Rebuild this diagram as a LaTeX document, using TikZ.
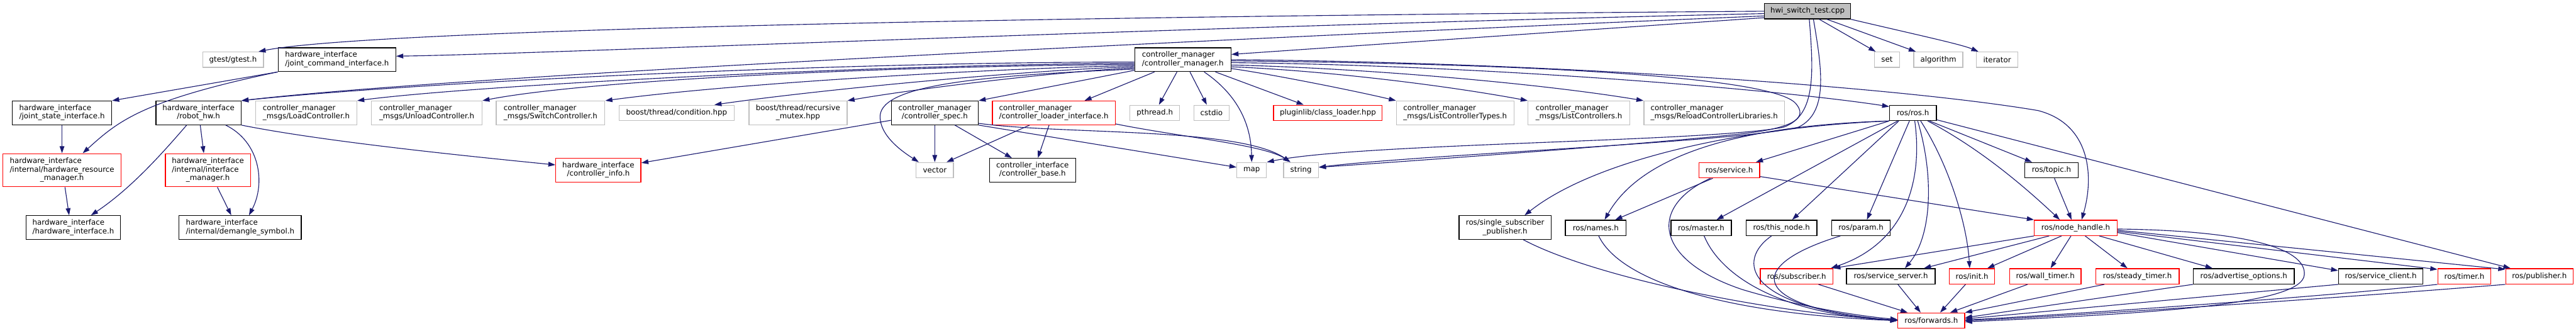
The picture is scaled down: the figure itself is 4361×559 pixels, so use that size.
\documentclass[tikz,border=0pt]{standalone}
\usepackage{fontspec}
\setmainfont{DejaVu Sans}
\usetikzlibrary{arrows.meta}
\definecolor{midnight}{HTML}{191970}
\definecolor{grey75}{HTML}{BFBFBF}
\newcommand\twoline[2]{\begin{tabular}{@{}l@{}}#1\\\multicolumn{1}{@{}c@{}}{#2}\end{tabular}}
\newcommand\threeline[3]{\begin{tabular}{@{}l@{}}#1\\#2\\\multicolumn{1}{@{}c@{}}{#3}\end{tabular}}
\tikzset{
  bx/.style={draw=black, line width=1.4pt, fill=white, inner sep=0pt, text=black, font=\fontsize{12.6}{14.3}\selectfont},
  gbx/.style={bx, draw=grey75},
  rbx/.style={bx, draw=red},
  hA/.style={minimum height=26pt},
  hB/.style={minimum height=40pt},
  hC/.style={minimum height=56pt},
  bw/.style={minimum width=#1},
  edg/.style={draw=midnight, line width=1.2pt, -{Triangle[length=12pt,width=8pt]}},
}
\begin{document}
\begin{tikzpicture}[x=1pt,y=-1pt]
\fill[white] (0,0) rectangle (4361,559);
\useasboundingbox (0,0) rectangle (4361,559);
% row 0
\node[bx, fill=grey75, hA, bw=146pt] (hwi) at (3060,19) {hwi\_switch\_test.cpp};
% row 1
\node[gbx, hA, bw=103pt] (gtest) at (394.5,101) {gtest/gtest.h};
\node[bx, hB, bw=199pt] (jci) at (570.5,101) {\twoline{hardware\_interface}{/joint\_command\_interface.h}};
\node[bx, hB, bw=163pt] (cm) at (2002.5,101) {\twoline{controller\_manager}{/controller\_manager.h}};
\node[gbx, hA, bw=43pt] (set) at (3194.5,101) {set};
\node[gbx, hA, bw=83pt] (algorithm) at (3281.5,101) {algorithm};
\node[gbx, hA, bw=70pt] (iterator) at (3381,101) {iterator};
% row 2
\node[bx, hB, bw=168pt] (jsi) at (105,191) {\twoline{hardware\_interface}{/joint\_state\_interface.h}};
\node[bx, hB, bw=144pt] (robothw) at (336,191) {\twoline{hardware\_interface}{/robot\_hw.h}};
\node[gbx, hB, bw=171pt] (load) at (518.5,191) {\twoline{controller\_manager}{\_msgs/LoadController.h}};
\node[gbx, hB, bw=187pt] (unload) at (722.5,191) {\twoline{controller\_manager}{\_msgs/UnloadController.h}};
\node[gbx, hB, bw=184pt] (switch) at (932,191) {\twoline{controller\_manager}{\_msgs/SwitchController.h}};
\node[gbx, hA, bw=195pt] (cond) at (1145.5,191) {boost/thread/condition.hpp};
\node[gbx, hB, bw=166pt] (rmutex) at (1351,191) {\twoline{boost/thread/recursive}{\_mutex.hpp}};
\node[bx, hB, bw=147pt] (spec) at (1582.5,191) {\twoline{controller\_manager}{/controller\_spec.h}};
\node[rbx, hB, bw=208pt] (cli) at (1784,191) {\twoline{controller\_manager}{/controller\_loader\_interface.h}};
\node[gbx, hA, bw=84pt] (pthread) at (1955,191) {pthread.h};
\node[gbx, hA, bw=60pt] (cstdio) at (2051,191) {cstdio};
\node[rbx, hA, bw=184pt] (classloader) at (2248,191) {pluginlib/class\_loader.hpp};
\node[gbx, hB, bw=199pt] (listtypes) at (2463.5,191) {\twoline{controller\_manager}{\_msgs/ListControllerTypes.h}};
\node[gbx, hB, bw=172pt] (listctrl) at (2673,191) {\twoline{controller\_manager}{\_msgs/ListControllers.h}};
\node[gbx, hB, bw=238pt] (reload) at (2902,191) {\twoline{controller\_manager}{\_msgs/ReloadControllerLibraries.h}};
\node[bx, hA, bw=79pt] (ros) at (3238.5,191) {ros/ros.h};
% row 3
\node[rbx, hC, bw=200pt] (hrm) at (105,288) {\threeline{hardware\_interface}{/internal/hardware\_resource}{\_manager.h}};
\node[rbx, hC, bw=144pt] (im) at (352,288) {\threeline{hardware\_interface}{/internal/interface}{\_manager.h}};
\node[rbx, hB, bw=144pt] (cinfo) at (1013,288) {\twoline{hardware\_interface}{/controller\_info.h}};
\node[gbx, hA, bw=63pt] (vector) at (1582.5,288) {vector};
\node[bx, hB, bw=146pt] (cbase) at (1748,288) {\twoline{controller\_interface}{/controller\_base.h}};
\node[gbx, hA, bw=50pt] (map) at (2119,288) {map};
\node[gbx, hA, bw=59pt] (string) at (2202.5,288) {string};
\node[rbx, hA, bw=103pt] (service) at (2927.5,288) {ros/service.h};
\node[bx, hA, bw=90pt] (topic) at (3473,288) {ros/topic.h};
% row 4
\node[bx, hB, bw=160pt] (hwif) at (124,385) {\twoline{hardware\_interface}{/hardware\_interface.h}};
\node[bx, hB, bw=207pt] (demangle) at (406.5,385) {\twoline{hardware\_interface}{/internal/demangle\_symbol.h}};
\node[bx, hB, bw=156pt] (ssp) at (2548,385) {\twoline{ros/single\_subscriber}{\_publisher.h}};
\node[bx, hA, bw=103pt] (names) at (2701.5,385.5) {ros/names.h};
\node[bx, hA, bw=102pt] (master) at (2880,385.5) {ros/master.h};
\node[bx, hA, bw=120pt] (thisnode) at (3016,385.5) {ros/this\_node.h};
\node[bx, hA, bw=99pt] (param) at (3150.5,385.5) {ros/param.h};
\node[rbx, hA, bw=140pt] (nh) at (3514,385.5) {ros/node\_handle.h};
% row 5
\node[rbx, hA, bw=123pt] (subscriber) at (3041.5,467.5) {ros/subscriber.h};
\node[bx, hA, bw=150pt] (sserver) at (3201,467.5) {ros/service\_server.h};
\node[rbx, hA, bw=77pt] (init) at (3338.5,467.5) {ros/init.h};
\node[rbx, hA, bw=121pt] (walltimer) at (3462.5,467.5) {ros/wall\_timer.h};
\node[rbx, hA, bw=141pt] (steady) at (3618.5,467.5) {ros/steady\_timer.h};
\node[bx, hA, bw=171pt] (advopt) at (3798.5,467.5) {ros/advertise\_options.h};
\node[bx, hA, bw=143pt] (sclient) at (4030.5,467.5) {ros/service\_client.h};
\node[rbx, hA, bw=90pt] (timer) at (4172,467.5) {ros/timer.h};
\node[rbx, hA, bw=114pt] (publisher) at (4299,467.5) {ros/publisher.h};
% row 6
\node[rbx, hA, bw=113pt] (forwards) at (3269.5,542.5) {ros/forwards.h};

% ---- edges from hwi
\draw[edg] (hwi.west) .. controls (1500,30) and (600,55) .. ([xshift=-9pt]gtest.north east);
\draw[edg] ([yshift=-4pt]hwi.west) .. controls (2000,45) and (900,92) .. ([yshift=6pt]jci.east);
\draw[edg] ([yshift=-8pt]hwi.west) .. controls (2200,60) and (800,125) .. (robothw.north east);
\draw[edg] ([yshift=-11pt]hwi.west) -- ([yshift=9pt]cm.east);
\draw[edg] ([xshift=20pt]hwi.south) -- ([xshift=3pt]set.north west);
\draw[edg] ([xshift=33pt]hwi.south) -- ([xshift=4pt]algorithm.north west);
\draw[edg] (hwi.south east) .. controls (3250,60) and (3320,75) .. ([xshift=4pt]iterator.north west);
\draw[edg] ([xshift=3pt]hwi.south) .. controls (3070,120) and (3075,195) .. (3020,215) .. controls (2900,240) and (2300,242) .. (map.north east);
\draw[edg] ([xshift=10pt]hwi.south) .. controls (3085,120) and (3095,190) .. (3045,215) .. controls (2950,240) and (2400,262) .. ([yshift=5pt]string.east);

% ---- edges from controller_manager.h (left)
\draw[edg] ([yshift=-4pt]cm.west) .. controls (1400,105) and (700,140) .. (robothw.north east);
\draw[edg] ([yshift=-6pt]cm.west) .. controls (1450,110) and (800,145) .. (load.north east);
\draw[edg] ([yshift=-8pt]cm.west) .. controls (1500,112) and (1000,135) .. (unload.north east);
\draw[edg] ([yshift=-10pt]cm.west) .. controls (1700,115) and (1250,140) .. (switch.north east);
\draw[edg] ([yshift=-12pt]cm.west) .. controls (1750,118) and (1400,150) .. ([xshift=64pt]cond.north);
\draw[edg] ([yshift=-14pt]cm.west) .. controls (1800,120) and (1550,150) .. (rmutex.north east);
\draw[edg] ([yshift=-16pt]cm.west) .. controls (1650,128) and (1495,145) .. (1490,195) .. controls (1488,230) and (1530,258) .. ([xshift=-27pt]vector.north);
\draw[edg] ([yshift=-18pt]cm.west) -- (spec.north east);
% (bottom)
\draw[edg] ([xshift=-48pt]cm.south) -- ([xshift=52pt]cli.north);
\draw[edg] ([xshift=-10pt]cm.south) -- ([xshift=7pt]pthread.north);
\draw[edg] ([xshift=12pt]cm.south) -- ([xshift=-8pt]cstdio.north);
\draw[edg] ([xshift=36pt]cm.south) .. controls (2095,160) and (2118,210) .. (map.north);
\draw[edg] ([xshift=55pt]cm.south) -- ([xshift=-41pt]classloader.north);
% (right)
\draw[edg] (cm.east) .. controls (2600,105) and (3200,145) .. (3450,187) .. controls (3540,210) and (3545,300) .. ([xshift=10pt]nh.north);
\draw[edg] ([yshift=-2pt]cm.east) .. controls (2600,108) and (3000,130) .. (3040,175) .. controls (3060,198) and (3040,215) .. (2960,225) .. controls (2860,238) and (2400,272) .. ([yshift=5pt]string.east);
\draw[edg] ([yshift=-5pt]cm.east) .. controls (2500,110) and (3000,150) .. ([yshift=-3pt]ros.north west);
\draw[edg] ([yshift=-9pt]cm.east) .. controls (2300,115) and (2600,140) .. (reload.north west);
\draw[edg] ([yshift=-12pt]cm.east) .. controls (2250,120) and (2450,145) .. (listctrl.north west);
\draw[edg] ([yshift=-15pt]cm.east) .. controls (2150,125) and (2300,155) .. (listtypes.north west);

% ---- controller_spec / loader interface
\draw[edg] (spec) -- (vector);
\draw[edg] ([xshift=34pt]spec.south) -- ([xshift=-35pt]cbase.north);
\draw[edg] (spec.south east) -- ([yshift=5pt]map.west);
\draw[edg] ([yshift=3pt]spec.south east) .. controls (1800,228) and (2100,215) .. ([xshift=-18pt]string.north);
\draw[edg] (spec) -- (cinfo);
\draw[edg] ([xshift=-41pt]cli.south) -- ([xshift=20pt]vector.north);
\draw[edg] ([xshift=-8pt]cli.south) -- ([xshift=9pt]cbase.north);
\draw[edg] ([yshift=2pt]cli.south east) .. controls (2000,232) and (2140,245) .. ([xshift=-18pt]string.north);

% ---- hardware_interface cluster
\draw[edg] (jci.south west) -- (jsi.north east);
\draw[edg] (jci.south west) .. controls (240,170) and (200,205) .. ([xshift=35pt]hrm.north);
\draw[edg] (jsi) -- (hrm);
\draw[edg] ([xshift=5pt]hrm.south) -- ([xshift=-7pt]hwif.north);
\draw[edg] ([xshift=-20pt]robothw.south) .. controls (270,265) and (220,320) .. ([xshift=30pt]hwif.north);
\draw[edg] ([xshift=3pt]robothw.south) -- ([xshift=-7pt]im.north);
\draw[edg] ([xshift=46pt]robothw.south) .. controls (440,240) and (450,310) .. ([xshift=15pt]demangle.north);
\draw[edg] (robothw.south east) .. controls (550,240) and (800,265) .. ([yshift=9pt]cinfo.west);
\draw[edg] ([xshift=16pt]im.south) -- ([xshift=-15pt]demangle.north);

% ---- ros/ros.h
\draw[edg] (ros.south west) .. controls (2950,215) and (2700,270) .. ([xshift=33pt]ssp.north);
\draw[edg] (ros.south west) .. controls (2950,212) and (2780,260) .. ([xshift=15pt]names.north);
\draw[edg] (ros.south west) -- ([xshift=45pt]service.north);
\draw[edg] ([xshift=-26pt]ros.south) -- ([xshift=26pt]master.north);
\draw[edg] ([xshift=-24pt]ros.south) -- ([xshift=18pt]thisnode.north);
\draw[edg] ([xshift=-6pt]ros.south) -- ([xshift=10pt]param.north);
\draw[edg] ([xshift=3pt]ros.south) .. controls (3255,300) and (3230,410) .. ([xshift=58pt]subscriber.north);
\draw[edg] ([xshift=8pt]ros.south) .. controls (3275,300) and (3270,400) .. ([xshift=24pt]sserver.north);
\draw[edg] ([xshift=13pt]ros.south) .. controls (3300,280) and (3330,380) .. ([xshift=-4pt]init.north);
\draw[edg] ([xshift=25pt]ros.south) .. controls (3330,240) and (3400,290) .. ([xshift=-27pt]nh.north);
\draw[edg] ([xshift=28pt]ros.south) -- ([xshift=-33pt]topic.north);
\draw[edg] ([yshift=2pt]ros.south east) -- ([xshift=-49pt]publisher.north);

% ---- topic / service
\draw[edg] ([xshift=5pt]topic.south) -- ([xshift=-7pt]nh.north);
\draw[edg] ([yshift=3pt]service.south east) -- (nh.north west);
\draw[edg] ([xshift=-28pt]service.south) -- ([xshift=33pt]names.north);
\draw[edg] ([xshift=-32pt]service.south) .. controls (2790,350) and (2800,440) .. (2950,490) .. controls (3050,520) and (3150,535) .. ([yshift=2pt]forwards.west);

% ---- row 4 -> forwards
\draw[edg] ([xshift=31pt]ssp.south) .. controls (2700,470) and (3000,530) .. ([yshift=1pt]forwards.west);
\draw[edg] ([xshift=5pt]names.south) .. controls (2740,470) and (2900,530) .. (forwards.west);
\draw[edg] ([xshift=5pt]master.south) .. controls (2910,460) and (3000,530) .. (forwards.west);
\draw[edg] ([xshift=-17pt]thisnode.south) .. controls (2940,440) and (2950,520) .. (forwards.west);
\draw[edg] ([xshift=-35pt]param.south) .. controls (2950,450) and (2960,520) .. (forwards.west);

% ---- node_handle
\draw[edg] (nh.south west) -- (subscriber.north east);
\draw[edg] ([xshift=-45pt]nh.south) -- ([xshift=56pt]sserver.north);
\draw[edg] ([xshift=-24pt]nh.south) -- ([xshift=26pt]init.north);
\draw[edg] ([xshift=-8pt]nh.south) -- ([xshift=9pt]walltimer.north);
\draw[edg] ([xshift=16pt]nh.south) -- ([xshift=-17pt]steady.north);
\draw[edg] ([xshift=40pt]nh.south) -- ([xshift=-53pt]advopt.north);
\draw[edg] ([yshift=-8pt]nh.east) -- ([yshift=-4pt]sclient.north west);
\draw[edg] ([yshift=-6pt]nh.east) -- ([yshift=-2pt]timer.north west);
\draw[edg] ([yshift=-4pt]nh.east) -- ([yshift=-2pt]publisher.north west);
\draw[edg] ([yshift=-2pt]nh.east) .. controls (3800,390) and (3905,420) .. (3901,465) .. controls (3897,515) and (3650,530) .. ([yshift=-2pt]forwards.east);

% ---- row 5 -> forwards
\draw[edg] ([xshift=37pt]subscriber.south) -- ([xshift=-40pt]forwards.north);
\draw[edg] ([xshift=12pt]sserver.south) -- ([xshift=-18pt]forwards.north);
\draw[edg] ([xshift=-11pt]init.south) -- ([xshift=15pt]forwards.north);
\draw[edg] ([xshift=-30pt]walltimer.south) -- ([xshift=32pt]forwards.north);
\draw[edg] ([xshift=-56pt]steady.south) -- (forwards.north east);
\draw[edg] (advopt.south west) -- ([yshift=5pt]forwards.east);
\draw[edg] (sclient.south west) -- ([yshift=3pt]forwards.east);
\draw[edg] (timer.south west) .. controls (3900,505) and (3500,532) .. ([yshift=1pt]forwards.east);
\draw[edg] (publisher.south west) .. controls (3950,505) and (3500,535) .. (forwards.east);
\end{tikzpicture}
\end{document}
